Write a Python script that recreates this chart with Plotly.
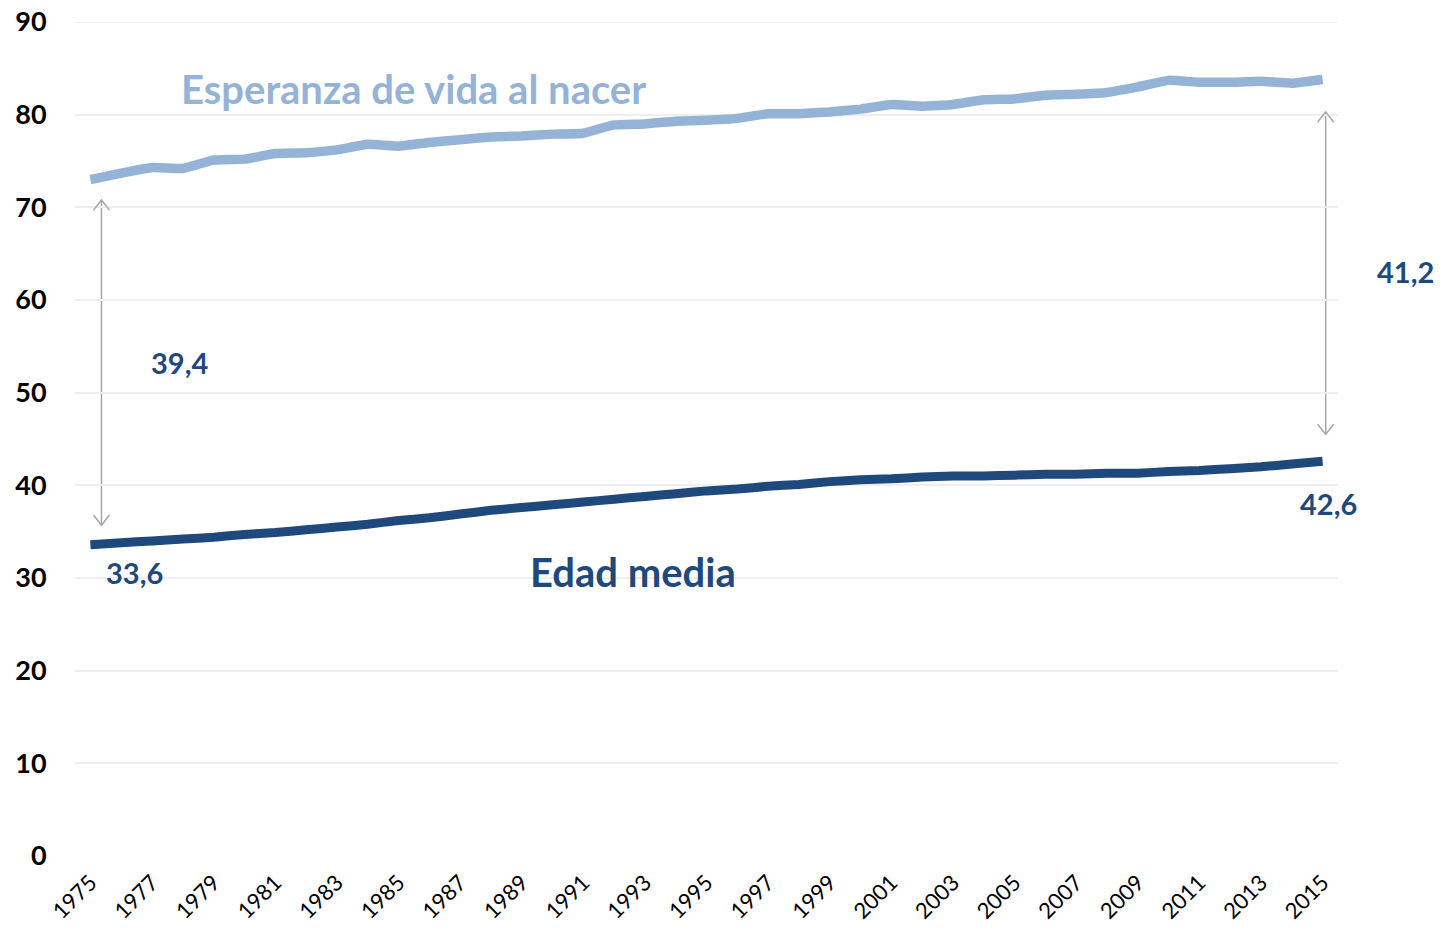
import plotly.graph_objects as go

years = list(range(1975, 2016))
esperanza_vida = [73.0, 73.7, 74.3, 74.2, 75.1, 75.2, 75.8, 75.9, 76.2, 76.8,
                  76.6, 77.0, 77.3, 77.6, 77.7, 77.9, 78.0, 78.9, 79.0, 79.3,
                  79.4, 79.6, 80.1, 80.1, 80.3, 80.6, 81.1, 80.9, 81.1, 81.6,
                  81.7, 82.1, 82.2, 82.4, 83.0, 83.7, 83.5, 83.5, 83.6, 83.4, 83.8]
edad_media = [33.6, 33.8, 34.0, 34.2, 34.4, 34.7, 34.9, 35.2, 35.5, 35.8,
              36.2, 36.5, 36.9, 37.3, 37.6, 37.9, 38.2, 38.5, 38.8, 39.1,
              39.4, 39.6, 39.9, 40.1, 40.4, 40.6, 40.7, 40.9, 41.0, 41.0,
              41.1, 41.2, 41.2, 41.3, 41.3, 41.5, 41.6, 41.8, 42.0, 42.3, 42.6]
tick_years = list(range(1975, 2016, 2))
y_ticks = list(range(0, 91, 10))

light = "#95B3D7"
dark = "#1F497D"
grey = "#A6A6A6"
gridc = "#EFEFEF"
font_fam = "Lato, 'Open Sans', sans-serif"

fig = go.Figure()
fig.add_trace(go.Scatter(x=years, y=esperanza_vida, mode="lines",
                         line=dict(color=light, width=9.5, shape="spline", smoothing=0.3),
                         hoverinfo="x+y"))
fig.add_trace(go.Scatter(x=years, y=edad_media, mode="lines",
                         line=dict(color=dark, width=9, shape="spline", smoothing=0.3),
                         hoverinfo="x+y"))

shapes = [dict(type="line", xref="paper", x0=0, x1=1, y0=90, y1=90,
               line=dict(color=gridc, width=2), layer="below")]
def dbl_arrow(x, y0, y1):
    dx, dy = 0.26, 1.1
    shapes.append(dict(type="line", x0=x, x1=x, y0=y0, y1=y1,
                       line=dict(color=grey, width=1.5), layer="below"))
    shapes.append(dict(type="path", path=f"M {x-dx},{y1-dy} L {x},{y1} L {x+dx},{y1-dy}",
                       line=dict(color=grey, width=1.5)))
    shapes.append(dict(type="path", path=f"M {x-dx},{y0+dy} L {x},{y0} L {x+dx},{y0+dy}",
                       line=dict(color=grey, width=1.5)))

dbl_arrow(1975.36, 35.7, 70.8)
dbl_arrow(2015.1, 45.5, 80.3)

annotations = [
    dict(x=1985.5, y=82.8, text="<b>Esperanza de vida al nacer</b>", showarrow=False,
         font=dict(family=font_fam, size=40, color=light)),
    dict(x=1992.6, y=30.6, text="<b>Edad media</b>", showarrow=False,
         font=dict(family=font_fam, size=40, color=dark)),
    dict(x=1977.9, y=53.3, text="<b>39,4</b>", showarrow=False,
         font=dict(family=font_fam, size=29, color=dark)),
    dict(x=1976.43, y=30.6, text="<b>33,6</b>", showarrow=False,
         font=dict(family=font_fam, size=29, color=dark)),
    dict(x=2015.2, y=38.0, text="<b>42,6</b>", showarrow=False,
         font=dict(family=font_fam, size=29, color=dark)),
    dict(x=(1405 - 75) / 1263, xref="paper", xanchor="center", y=63.1,
         text="<b>41,2</b>", showarrow=False,
         font=dict(family=font_fam, size=29, color=dark)),
]

fig.update_layout(
    width=1442, height=935,
    margin=dict(l=75, r=104, t=22, b=79),
    plot_bgcolor="white", paper_bgcolor="white",
    showlegend=False,
    shapes=shapes, annotations=annotations,
    font=dict(family=font_fam, color="black"),
    xaxis=dict(range=[1974.5, 2015.5], tickmode="array", tickvals=tick_years,
               ticktext=[str(y) for y in tick_years], tickangle=-45,
               tickfont=dict(size=22, family=font_fam), showgrid=False,
               showline=False, zeroline=False, ticks="outside", ticklen=4,
               tickcolor="white", automargin=False),
    yaxis=dict(range=[0, 90], tickmode="array", tickvals=y_ticks,
               ticktext=[f"<b>{v}</b>" for v in y_ticks],
               showgrid=True, gridcolor=gridc,
               gridwidth=2, zeroline=False, showline=False,
               tickfont=dict(size=27, family=font_fam), ticks="outside",
               ticklen=22, tickcolor="white", automargin=False),
)

fig.write_html("out.html", config={"displayModeBar": False},
               post_script="document.body.style.margin='0';")
